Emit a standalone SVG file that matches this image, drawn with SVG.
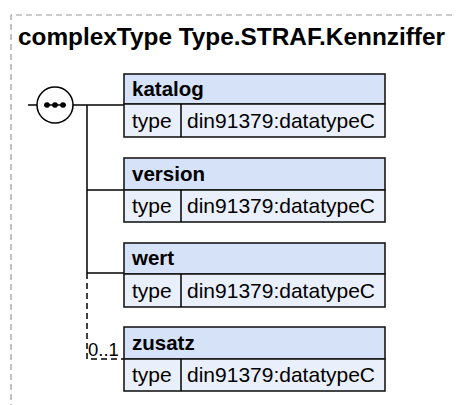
<svg xmlns="http://www.w3.org/2000/svg" width="456" height="405" viewBox="0 0 456 405">
<style>
.frame{fill:none;stroke:#9a9a9a;stroke-width:1.2;stroke-dasharray:6,4}
.title{font-family:"Liberation Sans",Arial,sans-serif;font-weight:bold;font-size:24px;fill:#000}
.hdr{fill:#d6e2f7;stroke:#1a1a1a;stroke-width:1.6}
.row{fill:#eaf0fb;stroke:#1a1a1a;stroke-width:1.6}
.name{font-family:"Liberation Sans",Arial,sans-serif;font-weight:bold;font-size:20.5px;fill:#000}
.txt{font-family:"Liberation Sans",Arial,sans-serif;font-size:21px;fill:#000}
.occ{font-family:"Liberation Sans",Arial,sans-serif;font-size:18.5px;fill:#000}
.ln{fill:none;stroke:#000;stroke-width:1.5}
.dash{fill:none;stroke:#000;stroke-width:1.5;stroke-dasharray:6,4}
</style>
<path class="frame" d="M11 420 V15 H460"/>
<text class="title" x="18" y="45" textLength="427" lengthAdjust="spacingAndGlyphs">complexType Type.STRAF.Kennziffer</text>
<g id="connectors">
<path class="ln" d="M28 105 H37"/>
<path class="ln" d="M73 105 H124"/>
<path class="ln" d="M87 105 V273"/>
<path class="ln" d="M87 190 H124"/>
<path class="ln" d="M87 273 H124"/>
<path class="dash" d="M87 273 V359 H124"/>
<text class="occ" x="88" y="356">0..1</text>
</g>
<g id="sequence">
<circle cx="55" cy="105" r="18" fill="#fff" stroke="#000" stroke-width="1.5"/>
<path class="ln" d="M44 105 H66"/>
<circle cx="47" cy="105" r="2.8" fill="#000"/>
<circle cx="55" cy="105" r="2.8" fill="#000"/>
<circle cx="63" cy="105" r="2.8" fill="#000"/>
</g>
<g id="katalog">
<rect class="hdr" x="124" y="74" width="261" height="30"/>
<rect class="row" x="124" y="104" width="261" height="33"/>
<path class="ln" d="M181 104 V137" stroke="#1a1a1a"/>
<text class="name" x="132" y="96">katalog</text>
<text class="txt" x="132" y="128">type</text>
<text class="txt" x="187" y="128">din91379:datatypeC</text>
</g>
<g id="version">
<rect class="hdr" x="124" y="158" width="261" height="32"/>
<rect class="row" x="124" y="190" width="261" height="32"/>
<path class="ln" d="M181 190 V222"/>
<text class="name" x="132" y="181">version</text>
<text class="txt" x="132" y="213">type</text>
<text class="txt" x="187" y="213">din91379:datatypeC</text>
</g>
<g id="wert">
<rect class="hdr" x="124" y="243" width="261" height="31"/>
<rect class="row" x="124" y="274" width="261" height="33"/>
<path class="ln" d="M181 274 V307"/>
<text class="name" x="132" y="265">wert</text>
<text class="txt" x="132" y="298">type</text>
<text class="txt" x="187" y="298">din91379:datatypeC</text>
</g>
<g id="zusatz">
<rect class="hdr" x="124" y="327" width="261" height="32"/>
<rect class="row" x="124" y="359" width="261" height="32"/>
<path class="ln" d="M181 359 V391"/>
<text class="name" x="132" y="350">zusatz</text>
<text class="txt" x="132" y="382">type</text>
<text class="txt" x="187" y="382">din91379:datatypeC</text>
</g>
</svg>
